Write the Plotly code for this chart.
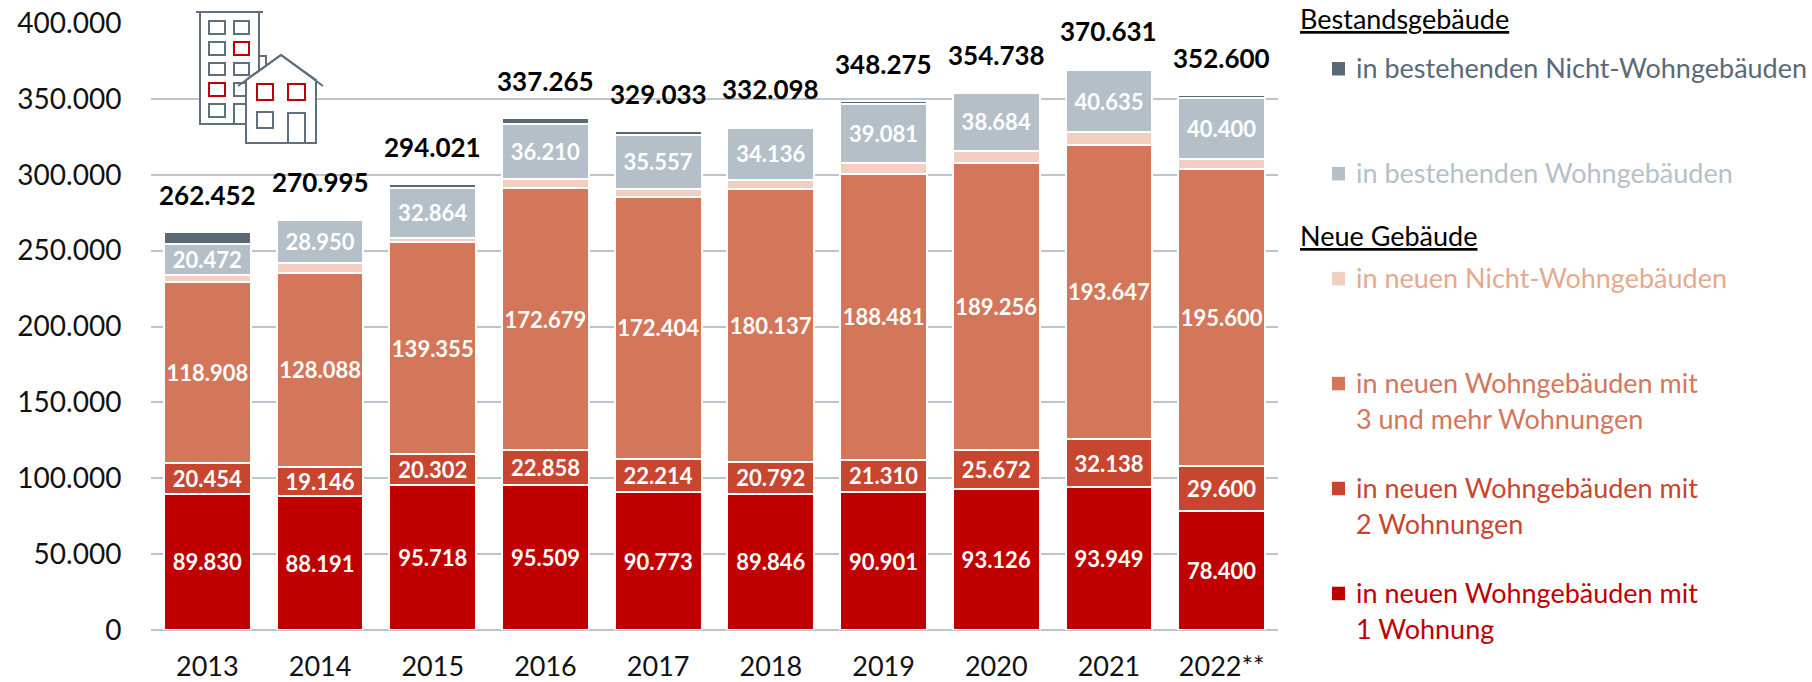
import plotly.graph_objects as go

years = ["2013", "2014", "2015", "2016", "2017", "2018", "2019", "2020", "2021", "2022**"]
totals = [262452, 270995, 294021, 337265, 329033, 332098, 348275, 354738, 370631, 352600]
neu_1_wohnung = [89830, 88191, 95718, 95509, 90773, 89846, 90901, 93126, 93949, 78400]
neu_2_wohnungen = [20454, 19146, 20302, 22858, 22214, 20792, 21310, 25672, 32138, 29600]
neu_3_wohnungen = [118908, 128088, 139355, 172679, 172404, 180137, 188481, 189256, 193647, 195600]
neu_nicht_wohn = [4900, 6120, 3200, 6200, 5500, 6000, 6800, 7400, 8400, 6900]
best_wohn = [20472, 28950, 32864, 36210, 35557, 34136, 39081, 38684, 40635, 40400]
best_nicht_wohn = [7888, 500, 2582, 3809, 2585, 1187, 1702, 600, 1862, 1700]
y_ticks = [0, 50000, 100000, 150000, 200000, 250000, 300000, 350000, 400000]

FONT = "Lato"
C_RED, C_RED2, C_ORANGE, C_PEACH, C_GREY, C_DARK = "#C00000", "#C8452F", "#D4765A", "#F2CFC0", "#B5BFC8", "#5A6978"
GRID = "#B9C4CE"

L, R, T, B = 151, 1278, 23, 630.3
W, H = 1812, 682

def px(x):
    return (x - L) / (R - L)

def py(y):
    return (B - y) / (B - T)

fig = go.Figure()

series = [
    (neu_1_wohnung, C_RED, True),
    (neu_2_wohnungen, C_RED2, True),
    (neu_3_wohnungen, C_ORANGE, True),
    (neu_nicht_wohn, C_PEACH, False),
    (best_wohn, C_GREY, True),
    (best_nicht_wohn, C_DARK, False),
]
for vals, col, lab in series:
    fig.add_trace(go.Bar(
        x=years, y=vals, width=0.77,
        marker=dict(color=col, line=dict(color="white", width=2)),
        texttemplate="%{y:,d}" if lab else None,
        textposition="inside" if lab else "none",
        insidetextanchor="middle", textangle=0, constraintext="none",
        insidetextfont=dict(family=FONT, size=22, color="white", weight="bold"),
        hoverinfo="x+y", showlegend=False,
    ))

anns = []
for i, tot in enumerate(totals):
    anns.append(dict(x=i, y=tot, xref="x", yref="y", yshift=37, yanchor="middle", xanchor="center",
                     text=f"{tot:,d}".replace(",", "."), showarrow=False,
                     font=dict(family=FONT, size=26, color="#000000", weight="bold")))

def label(x, y, text, color, size=27):
    anns.append(dict(x=px(x), y=py(y), xref="paper", yref="paper", xanchor="left", yanchor="middle",
                     text=text, showarrow=False, align="left", xshift=0,
                     font=dict(family=FONT, size=size, color=color)))

TX, HX = 1354, 1298
label(HX, 18, "<u>Bestandsgebäude</u>", "#000000", 27)
label(HX, 236, "<u>Neue Gebäude</u>", "#000000", 27)
legend_rows = [
    (68, ["in bestehenden Nicht-Wohngebäuden"], C_DARK, C_DARK),
    (173, ["in bestehenden Wohngebäuden"], C_GREY, C_GREY),
    (278, ["in neuen Nicht-Wohngebäuden"], C_PEACH, "#E5A990"),
    (383, ["in neuen Wohngebäuden mit", "3 und mehr Wohnungen"], C_ORANGE, C_ORANGE),
    (488, ["in neuen Wohngebäuden mit", "2 Wohnungen"], C_RED2, C_RED2),
    (593, ["in neuen Wohngebäuden mit", "1 Wohnung"], C_RED, C_RED),
]
shapes = []
for y, lines, sw, tc in legend_rows:
    for i, line in enumerate(lines):
        label(TX, y + 36 * i, line, tc)
    shapes.append(dict(type="rect", xref="paper", yref="paper", x0=px(1332), x1=px(1345),
                       y0=py(y + 7.5), y1=py(y - 6), fillcolor=sw, line_width=0, layer="above"))

# Building icon
ICON = "#5F6F7D"

def rect(x0, y0, x1, y1, col=ICON, fill="white"):
    shapes.append(dict(type="rect", xref="paper", yref="paper", x0=px(x0), x1=px(x1), y0=py(y0), y1=py(y1),
                       line=dict(color=col, width=2), fillcolor=fill, layer="above"))

def poly(points, fill="white"):
    d = "M " + " L ".join(f"{px(a)} {py(b)}" for a, b in points)
    shapes.append(dict(type="path", xref="paper", yref="paper", path=d, line=dict(color=ICON, width=2),
                       fillcolor=fill, layer="above"))

rect(257, 56, 266, 80)
rect(200, 12, 259, 124)
poly([(196, 12), (263, 12)], "rgba(0,0,0,0)")
for ry0, ry1 in [(21, 34), (42, 55), (63, 75), (83, 96), (104, 117)]:
    c1 = C_RED if ry0 == 83 else ICON
    c2 = C_RED if ry0 == 42 else ICON
    rect(209, ry0, 225, ry1, c1)
    if ry0 != 104:
        rect(234, ry0, 249, ry1, c2)
rect(234, 104, 249, 124)
poly([(246, 80), (281, 55), (316, 80), (316, 143), (246, 143), (246, 80)])
poly([(238, 86), (281, 55), (323, 86)], "rgba(0,0,0,0)")
rect(257, 84, 273, 100, C_RED)
rect(288, 84, 305, 100, C_RED)
rect(257, 112, 273, 128)
rect(288, 113, 305, 143)

fig.update_layout(
    barmode="stack", width=W, height=H, autosize=False,
    margin=dict(l=L, r=W - R, t=T, b=H - B, pad=0, autoexpand=False),
    paper_bgcolor="white", plot_bgcolor="white", separators=",.",
    font=dict(family=FONT, size=28, color="#111111"),
    bargap=0.23, annotations=anns, shapes=shapes, showlegend=False,
)
fig.update_xaxes(type="category", categoryorder="array", categoryarray=years, range=[-0.5, 9.5], showgrid=False,
                 showline=False, zeroline=False, automargin=False,
                 ticks="outside", ticklen=13, tickcolor="white", tickwidth=1,
                 tickfont=dict(family=FONT, size=27, color="#111111"))
fig.update_yaxes(range=[0, 400000], tickvals=y_ticks, tickformat=",d", showgrid=True, automargin=False,
                 gridcolor=GRID, gridwidth=2, zeroline=True, zerolinecolor=GRID, zerolinewidth=2,
                 showline=False, ticks="outside", ticklen=23, tickcolor="white", tickwidth=1,
                 tickfont=dict(family=FONT, size=28, color="#111111"))

fig.write_html("out.html", post_script="document.body.style.margin='0';", config={"displayModeBar": False})
